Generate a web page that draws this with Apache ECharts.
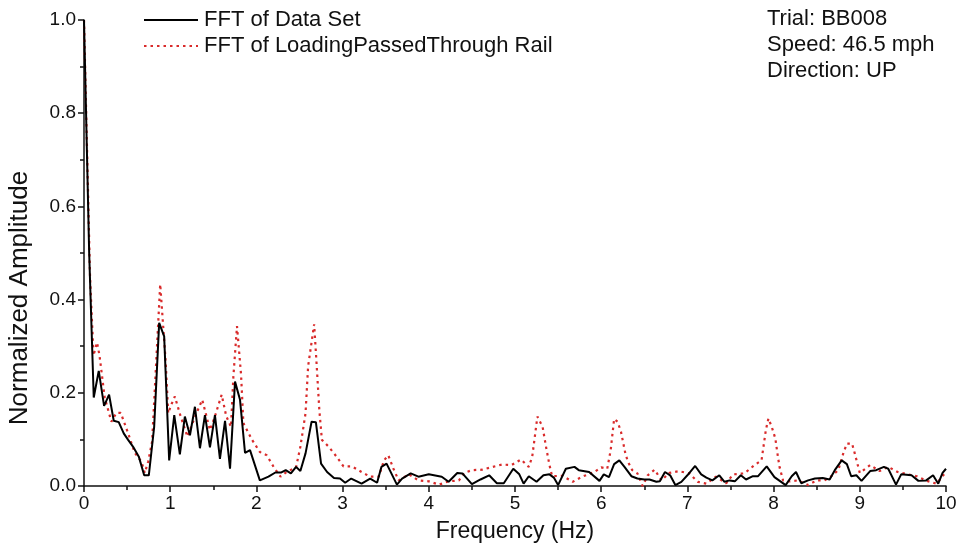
<!DOCTYPE html>
<html>
<head>
<meta charset="utf-8">
<script src="https://cdn.jsdelivr.net/npm/echarts@6/dist/echarts.min.js"></script>
<style>
  html, body { margin: 0; padding: 0; background: #fff; }
  #fftChart { width: 961px; height: 550px; }
</style>
</head>
<body>
<div id="fftChart"></div>
<script>
  // FFT of the measured data set (black solid)
  var dataFreq = [0, 0.06, 0.113, 0.171, 0.233, 0.291, 0.345, 0.403, 0.461, 0.512, 0.57, 0.636, 0.698, 0.752, 0.814, 0.872, 0.93, 0.988,
    1.047, 1.112, 1.17, 1.229, 1.287, 1.345, 1.403, 1.461, 1.519, 1.577, 1.636, 1.694, 1.752, 1.81, 1.868, 1.926,
    2.04, 2.14, 2.22, 2.29, 2.34, 2.40, 2.46, 2.51, 2.57, 2.64, 2.69, 2.75, 2.82, 2.90, 2.97,
    3.03, 3.1, 3.22, 3.32, 3.40, 3.45, 3.51, 3.63, 3.69, 3.79, 3.88,
    4.0, 4.15, 4.23, 4.33, 4.39, 4.50, 4.60, 4.70, 4.79, 4.87, 4.98,
    5.05, 5.10, 5.16, 5.25, 5.33, 5.40, 5.45, 5.50, 5.59, 5.69, 5.74, 5.86, 5.98,
    6.03, 6.09, 6.15, 6.21, 6.27, 6.35, 6.42, 6.50, 6.56, 6.64, 6.68, 6.74, 6.80, 6.86, 6.93,
    7.0, 7.09, 7.16, 7.22, 7.29, 7.37, 7.43, 7.49, 7.55, 7.62, 7.68, 7.76, 7.82, 7.92,
    8.01, 8.14, 8.21, 8.26, 8.32, 8.40, 8.48, 8.57, 8.65, 8.71, 8.79, 8.85, 8.90, 8.96,
    9.02, 9.12, 9.19, 9.28, 9.33, 9.42, 9.48, 9.60, 9.68, 9.77, 9.85, 9.91, 9.96, 10.0];
  var dataAmp = [1.0, 0.5, 0.19, 0.247, 0.172, 0.196, 0.14, 0.137, 0.113, 0.099, 0.084, 0.063, 0.023, 0.023, 0.127, 0.35, 0.321, 0.055,
    0.152, 0.068, 0.149, 0.109, 0.17, 0.081, 0.152, 0.083, 0.152, 0.058, 0.14, 0.037, 0.224, 0.185, 0.071, 0.077,
    0.012, 0.02, 0.029, 0.029, 0.034, 0.027, 0.041, 0.032, 0.07, 0.138, 0.137, 0.048, 0.03, 0.017, 0.016,
    0.007, 0.016, 0.005, 0.016, 0.007, 0.041, 0.048, 0.003, 0.016, 0.027, 0.02,
    0.025, 0.02, 0.009, 0.028, 0.027, 0.004, 0.014, 0.023, 0.006, 0.006, 0.037,
    0.025, 0.005, 0.021, 0.009, 0.023, 0.025, 0.018, 0.002, 0.037, 0.041, 0.034, 0.03, 0.011,
    0.025, 0.019, 0.047, 0.055, 0.041, 0.021, 0.016, 0.014, 0.014, 0.009, 0.01, 0.03, 0.023, 0.002, 0.009,
    0.023, 0.043, 0.025, 0.018, 0.012, 0.023, 0.009, 0.012, 0.01, 0.023, 0.014, 0.021, 0.021, 0.042,
    0.019, 0.002, 0.021, 0.03, 0.006, 0.012, 0.016, 0.017, 0.014, 0.034, 0.055, 0.047, 0.021, 0.023,
    0.011, 0.032, 0.034, 0.041, 0.037, 0.003, 0.025, 0.023, 0.011, 0.012, 0.023, 0.005, 0.028, 0.037];

  // FFT of loading passed through rail (red dotted)
  var railFreq = [0, 0.07, 0.11, 0.151, 0.18, 0.24, 0.318, 0.376, 0.426, 0.512, 0.589, 0.667, 0.705, 0.744, 0.79, 0.884, 0.946, 0.977,
    1.016, 1.054, 1.12, 1.2, 1.29, 1.372, 1.42, 1.461, 1.52, 1.597, 1.65, 1.705, 1.733, 1.775, 1.822, 1.849, 1.95,
    2.04, 2.12, 2.2, 2.28, 2.35, 2.46, 2.51, 2.57, 2.60, 2.67, 2.70, 2.73, 2.76, 2.84, 2.93,
    3.01, 3.11, 3.22, 3.32, 3.42, 3.48, 3.53, 3.59, 3.65, 3.77, 3.88,
    4.0, 4.12, 4.23, 4.35, 4.41, 4.50, 4.62, 4.74, 4.85, 4.96,
    5.07, 5.16, 5.20, 5.23, 5.26, 5.32, 5.36, 5.40, 5.43, 5.55, 5.67, 5.78, 5.92,
    6.0, 6.07, 6.11, 6.15, 6.19, 6.23, 6.28, 6.31, 6.36, 6.42, 6.48, 6.54, 6.62, 6.7, 6.79, 6.90,
    7.02, 7.12, 7.22, 7.33, 7.45, 7.53, 7.66, 7.78, 7.86, 7.91, 7.94, 7.98,
    8.02, 8.05, 8.07, 8.11, 8.19, 8.28, 8.40, 8.50, 8.59, 8.67, 8.75, 8.81, 8.85, 8.91, 8.94,
    9.0, 9.12, 9.23, 9.33, 9.44, 9.56, 9.66, 9.78, 9.89, 9.99];
  var railAmp = [1.0, 0.45, 0.28, 0.308, 0.28, 0.19, 0.138, 0.157, 0.157, 0.113, 0.071, 0.052, 0.028, 0.052, 0.095, 0.433, 0.271, 0.156,
    0.176, 0.192, 0.15, 0.106, 0.15, 0.185, 0.15, 0.12, 0.15, 0.196, 0.15, 0.127, 0.235, 0.343, 0.239, 0.135, 0.099,
    0.073, 0.066, 0.041, 0.02, 0.03, 0.04, 0.084, 0.156, 0.257, 0.347, 0.257, 0.163, 0.099, 0.084, 0.063,
    0.042, 0.042, 0.03, 0.02, 0.02, 0.055, 0.066, 0.037, 0.012, 0.025, 0.012,
    0.01, 0.003, 0.01, 0.012, 0.028, 0.034, 0.035, 0.041, 0.046, 0.045,
    0.057, 0.041, 0.063, 0.106, 0.149, 0.127, 0.084, 0.045, 0.021, 0.022, 0.009, 0.02, 0.03,
    0.04, 0.037, 0.077, 0.144, 0.138, 0.116, 0.07, 0.052, 0.034, 0.027, 0.0, 0.023, 0.035, 0.012, 0.028, 0.032,
    0.027, 0.009, 0.005, 0.02, 0.006, 0.025, 0.027, 0.045, 0.055, 0.12, 0.145, 0.126,
    0.102, 0.063, 0.04, 0.012, 0.01, 0.012, 0.002, 0.012, 0.012, 0.021, 0.034, 0.071, 0.091, 0.091, 0.071,
    0.028, 0.045, 0.032, 0.041, 0.03, 0.025, 0.021, 0.011, 0.005, 0.028];

  var seriesNames = ['FFT of Data Set', 'FFT of LoadingPassedThrough Rail'];
  var infoLines = ['Trial: BB008', 'Speed: 46.5 mph', 'Direction: UP'];
  var yTitle = 'Normalized Amplitude';

  function pairs(xs, ys) {
    return xs.map(function (x, i) { return [x, ys[i]]; });
  }

  var font = 'Arial, "Liberation Sans", sans-serif';
  var myChart = echarts.init(document.getElementById('fftChart'));
  var option = {
    animation: false,
    grid: { left: 84, right: 15, top: 20, bottom: 64, containLabel: false, outerBoundsMode: 'none' },
    legend: {
      orient: 'vertical',
      left: 138,
      top: 3,
      itemWidth: 54,
      itemHeight: 14,
      itemGap: 2,
      itemStyle: { opacity: 0 },
      textStyle: { fontFamily: font, fontSize: 22, color: '#111', lineHeight: 24, padding: [0, 0, 0, 1] },
      data: seriesNames
    },
    graphic: [
      {
        type: 'text',
        left: 767,
        top: 6,
        style: {
          text: infoLines.join('\n'),
          font: '22px ' + font,
          lineHeight: 26,
          fill: '#111'
        }
      },
      {
        // y axis title sits a little below the axis centre in the original
        type: 'text',
        x: 20,
        y: 298,
        rotation: Math.PI / 2,
        style: {
          text: yTitle,
          font: '26px ' + font,
          fill: '#111',
          align: 'center',
          verticalAlign: 'middle'
        }
      }
    ],
    xAxis: {
      type: 'value',
      min: 0, max: 10, interval: 1,
      name: 'Frequency (Hz)',
      nameLocation: 'middle',
      nameGap: 34,
      nameTextStyle: { fontFamily: font, fontSize: 23, color: '#111' },
      axisLine: { lineStyle: { color: '#111', width: 1.5 } },
      axisTick: { inside: false, length: 6, lineStyle: { color: '#111', width: 1.5 } },
      minorTick: { show: true, splitNumber: 2, length: 4, lineStyle: { color: '#111', width: 1.5 } },
      axisLabel: { fontFamily: font, fontSize: 19, color: '#111', margin: 8 },
      splitLine: { show: false }
    },
    yAxis: {
      type: 'value',
      min: 0, max: 1.0, interval: 0.2,
      axisLine: { show: true, lineStyle: { color: '#111', width: 1.5 } },
      axisTick: { show: true, length: 6, lineStyle: { color: '#111', width: 1.5 } },
      minorTick: { show: true, splitNumber: 2, length: 4, lineStyle: { color: '#111', width: 1.5 } },
      axisLabel: {
        fontFamily: font, fontSize: 19, color: '#111', margin: 8,
        formatter: function (v) { return v.toFixed(1); }
      },
      splitLine: { show: false }
    },
    series: [
      {
        name: seriesNames[0],
        type: 'line',
        symbol: 'none',
        z: 3,
        lineStyle: { color: '#000', width: 2 },
        itemStyle: { color: '#000' },
        data: pairs(dataFreq, dataAmp)
      },
      {
        name: seriesNames[1],
        type: 'line',
        symbol: 'none',
        z: 2,
        lineStyle: { color: '#d92b2b', width: 2.2, type: [2.5, 4] },
        itemStyle: { color: '#d92b2b' },
        data: pairs(railFreq, railAmp)
      }
    ]
  };
  myChart.setOption(option);
</script>
</body>
</html>
